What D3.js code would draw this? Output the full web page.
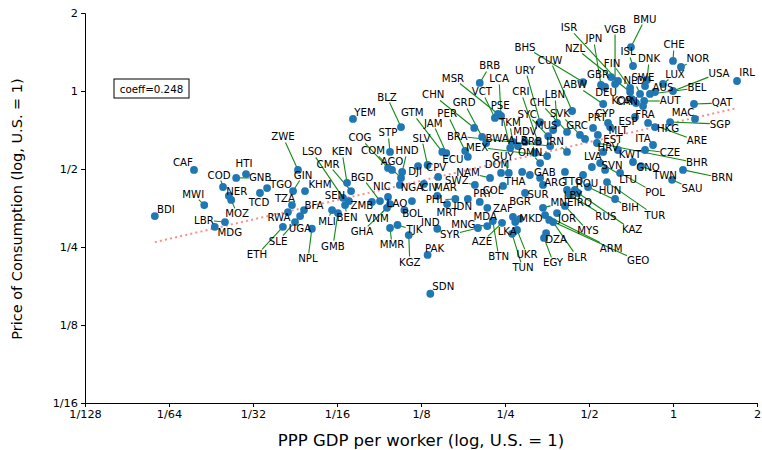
<!DOCTYPE html>
<html><head><meta charset="utf-8">
<script src="https://cdn.jsdelivr.net/npm/d3@7"></script>
<style>
body{margin:0;background:#fff;}
svg{font-family:"DejaVu Sans",sans-serif;display:block;}
</style></head><body>
<svg id="chart" width="762" height="450"></svg>
<script>
const countries = ["BDI","CAF","MWI","COD","HTI","GNB","NER","MOZ","LBR","MDG","TCD","TGO","ZWE","GIN","KHM","TZA","BFA","RWA","UGA","SLE","ETH","NPL","MLI","GMB","KEN","CMR","LSO","SEN","BEN","ZMB","BGD","NIC","GHA","VNM","MMR","TJK","KGZ","LAO","BOL","NGA","CIV","IND","PAK","SDN","YEM","COG","COM","STP","HND","AGO","DJI","BLZ","GTM","JAM","SLV","CPV","CHN","GRD","PER","MSR","BRA","MEX","ECU","BWA","PSE","TKM","MDV","ALB","SRB","IRN","OMN","GUY","DOM","THA","GAB","ARG","TTO","ROU","LVA","HRV","SVN","LTU","HUN","SUR","BGR","LBY","IRQ","MNE","JOR","RUS","BIH","KAZ","MYS","DZA","ARM","GEO","BLR","EGY","NAM","SWZ","COL","PRY","MAR","PHL","MRT","IDN","MDA","ZAF","MNG","SYR","AZE","BTN","LKA","UKR","TUN","MKD","URY","CRI","CHL","SYC","MUS","SVK","LBN","GRC","PRT","CYP","ESP","MLT","EST","KWT","ITA","CZE","GNQ","TWN","BHR","BRN","SAU","POL","TUR","HKG","ARE","SGP","MAC","QAT","BMU","ISR","VGB","JPN","DEU","NZL","ISL","DNK","CHE","NOR","LUX","USA","IRL","BEL","AUS","AUT","FIN","GBR","SWE","NLD","CUW","BHS","ABW","KOR","CAN","FRA","BRB","LCA","VCT"];

// PPP GDP per worker, relative to U.S. = 1
const gdpPerWorker = [0.0139,0.0192,0.0209,0.0244,0.0295,0.0272,0.0256,0.0261,0.0248,0.0228,0.0331,0.0351,0.0453,0.0435,0.0480,0.0431,0.0476,0.0417,0.0442,0.0461,0.0400,0.0508,0.0600,0.0630,0.0679,0.0702,0.0657,0.0690,0.0668,0.0834,0.0891,0.0952,0.0944,0.0968,0.0968,0.103,0.113,0.116,0.109,0.105,0.128,0.143,0.132,0.135,0.0713,0.0952,0.106,0.0968,0.107,0.0984,0.122,0.106,0.149,0.154,0.132,0.144,0.194,0.207,0.180,0.236,0.363,0.354,0.184,0.214,0.261,0.267,0.295,0.278,0.320,0.417,0.334,0.258,0.242,0.288,0.307,0.334,0.410,0.476,0.512,0.562,0.571,0.548,0.620,0.342,0.295,0.417,0.445,0.342,0.384,0.427,0.496,0.457,0.410,0.351,0.348,0.360,0.372,0.345,0.221,0.195,0.246,0.203,0.143,0.166,0.155,0.184,0.216,0.267,0.216,0.200,0.244,0.226,0.272,0.276,0.265,0.283,0.334,0.328,0.417,0.357,0.372,0.464,0.384,0.484,0.517,0.585,0.731,0.595,0.538,0.635,0.848,0.794,0.719,0.768,0.534,1.086,0.992,0.646,0.580,0.862,0.814,0.976,1.199,1.189,0.707,0.635,0.620,0.552,0.571,0.702,0.719,0.807,1.000,1.068,0.921,1.000,1.696,0.827,0.862,0.788,0.702,0.600,0.794,0.762,0.435,0.476,0.562,0.713,0.737,0.781,0.203,0.242,0.230];

// Price of consumption, relative to U.S. = 1
const priceOfConsumption = [0.329,0.496,0.363,0.426,0.478,0.462,0.394,0.380,0.312,0.299,0.404,0.422,0.496,0.411,0.411,0.363,0.347,0.341,0.312,0.329,0.299,0.294,0.347,0.338,0.442,0.411,0.387,0.376,0.363,0.373,0.376,0.390,0.354,0.366,0.296,0.304,0.278,0.376,0.347,0.434,0.438,0.294,0.233,0.165,0.780,0.505,0.462,0.582,0.487,0.496,0.513,0.726,0.582,0.576,0.518,0.466,0.720,0.665,0.587,0.815,0.613,0.561,0.557,0.630,0.603,0.636,0.636,0.613,0.576,0.582,0.527,0.483,0.483,0.487,0.474,0.462,0.487,0.474,0.509,0.582,0.496,0.527,0.383,0.434,0.404,0.415,0.415,0.354,0.338,0.397,0.426,0.404,0.360,0.283,0.332,0.318,0.312,0.271,0.462,0.434,0.430,0.373,0.394,0.383,0.366,0.383,0.354,0.327,0.301,0.296,0.310,0.315,0.312,0.291,0.281,0.321,0.759,0.636,0.695,0.670,0.707,0.677,0.753,0.653,0.720,0.753,0.794,0.726,0.677,0.592,0.619,0.592,0.532,0.513,0.630,0.496,0.454,0.483,0.445,0.726,0.753,0.759,0.780,0.891,1.478,1.093,1.064,1.055,1.036,0.991,1.249,1.103,1.306,1.238,1.064,1.000,1.093,0.974,0.991,0.915,1.027,1.132,1.045,0.974,0.837,1.083,0.891,0.931,0.899,0.875,1.074,0.801,0.787];

// label placement (layout only): offset of label centre from its point, in px
const labelOffsets = [[11,-7],[-11,-7],[-11,-11],[-4,-12],[-2,-11],[24,0],[8,-4],[6,14],[-21,-2],[15,6],[-1,10],[14,-4],[-15,-33],[10,-16],[15,-7],[-7,-7],[10,-5],[-9,5],[5,6],[-22,25],[-26,28],[-4,30],[-5,11],[-5,33],[-5,-31],[-23,-27],[-31,-46],[-14,-6],[2,12],[-10,4],[-18,-24],[-6,-10],[-25,24],[-13,14],[2,17],[17,5],[1,27],[-15,2],[8,3],[12,3],[6,4],[-7,-6],[7,-6],[13,-7],[12,-6],[-28,-30],[-28,-27],[-2,-19],[5,-21],[0,-8],[-3,5],[-14,-30],[-30,-39],[-13,-30],[-6,-27],[-2,-9],[-41,-33],[-18,-34],[-18,-37],[-45,-36],[-93,-10],[-70,-9],[-15,3],[11,-4],[-10,-42],[-3,-19],[0,-10],[0,-6],[-3,-12],[-12,-10],[-10,-11],[-6,-16],[-4,-8],[-7,10],[15,-3],[15,5],[8,10],[4,8],[1,-10],[5,-4],[7,-4],[28,16],[-5,-8],[-5,10],[-5,9],[6,6],[8,13],[19,-5],[10,5],[36,22],[42,20],[54,37],[23,25],[10,6],[66,33],[89,41],[24,35],[9,25],[-22,-5],[-18,-4],[-10,5],[3,-8],[8,-8],[-20,1],[0,8],[-5,8],[-2,9],[-10,-8],[-24,-2],[-28,7],[-20,19],[6,36],[-8,9],[10,25],[11,34],[11,0],[-15,-52],[-17,-50],[-27,-29],[-21,-22],[-7,-5],[-20,-21],[-2,-28],[-8,-13],[4,-10],[-3,-9],[-7,5],[8,3],[15,5],[12,5],[-10,-6],[25,3],[15,5],[24,9],[100,20],[39,8],[20,9],[35,20],[48,33],[13,1],[49,18],[50,2],[-12,-6],[28,-1],[14,-28],[-49,-53],[0,-55],[-7,-46],[1,5],[-55,-44],[-5,-14],[2,-21],[1,-16],[17,-8],[12,-10],[46,-18],[10,-8],[47,-6],[8,-5],[26,0],[-18,-25],[-13,-3],[-2,-9],[-6,-13],[-22,-51],[-58,-35],[-28,-19],[-10,1],[-9,-1],[2,8],[10,-17],[-2,-37],[-13,-26]];

const xTickValues = [1/128,1/64,1/32,1/16,1/8,1/4,1/2,1,2];
const xTickLabels = ["1/128","1/64","1/32","1/16","1/8","1/4","1/2","1","2"];
const yTickValues = [1/16,1/8,1/4,1/2,1,2];
const yTickLabels = ["1/16","1/8","1/4","1/2","1","2"];
const fitCoeff = 0.248;
const fitAtOne = 0.754;

const data = countries.map((c,i)=>({c, gdp:gdpPerWorker[i], price:priceOfConsumption[i], off:labelOffsets[i]||[8,-6]}));

const svg = d3.select("#chart");
const x = d3.scaleLog().base(2).domain([1/128,2]).range([85,757]);
const y = d3.scaleLog().base(2).domain([1/16,2]).range([403,13]);

// axes
const gx = svg.append("g").attr("transform","translate(0,403)")
  .call(d3.axisBottom(x).tickValues(xTickValues).tickFormat((d,i)=>xTickLabels[i]).tickSizeOuter(0).tickSize(4).tickPadding(3));
const gy = svg.append("g").attr("transform","translate(85,0)")
  .call(d3.axisLeft(y).tickValues(yTickValues).tickFormat((d,i)=>yTickLabels[i]).tickSizeOuter(0).tickSize(4).tickPadding(3));
[gx,gy].forEach(g=>{
  g.attr("font-family","DejaVu Sans, sans-serif").attr("font-size",11.3);
  g.selectAll("text").attr("fill","#000");
  g.selectAll("line,path").attr("stroke","#000").attr("stroke-width",1);
});

svg.append("text").attr("x",421).attr("y",446).attr("text-anchor","middle")
  .attr("font-size",16.5).text("PPP GDP per worker (log, U.S. = 1)");
svg.append("text").attr("transform","translate(22,209) rotate(-90)").attr("text-anchor","middle")
  .attr("font-size",14.5).text("Price of Consumption (log, U.S. = 1)");

// fit line
const xmin = d3.min(gdpPerWorker), xmax = d3.max(gdpPerWorker);
const fit = v => fitAtOne*Math.pow(v, fitCoeff);
svg.append("line")
  .attr("x1",x(xmin)).attr("y1",y(fit(xmin)))
  .attr("x2",x(xmax)).attr("y2",y(fit(xmax)))
  .attr("stroke","#f47a7a").attr("stroke-opacity",0.85).attr("stroke-width",2)
  .attr("stroke-dasharray","2,3.2");

const gLines = svg.append("g");
const gDots = svg.append("g");
const gText = svg.append("g").attr("font-size",10.2).attr("fill","#000");

gDots.selectAll("circle").data(data).join("circle")
  .attr("cx",d=>x(d.gdp)).attr("cy",d=>y(d.price)).attr("r",3.9)
  .attr("fill","#1f77b4");

const texts = gText.selectAll("text").data(data).join("text")
  .attr("x",d=>x(d.gdp)+d.off[0]).attr("y",d=>y(d.price)+d.off[1])
  .attr("text-anchor","middle").attr("dominant-baseline","central")
  .text(d=>d.c);

texts.each(function(d){
  const bb = this.getBBox();
  const px = x(d.gdp), py = y(d.price);
  const cx = bb.x+bb.width/2, cy = bb.y+bb.height/2;
  const hw = bb.width/2, hh = bb.height/2;
  const dx = px-cx, dy = py-cy;
  if (Math.abs(dx)<=hw+4 && Math.abs(dy)<=hh+4) return;
  const t = Math.min(dx!==0?hw/Math.abs(dx):Infinity, dy!==0?hh/Math.abs(dy):Infinity);
  const ex = cx+dx*t, ey = cy+dy*t;
  if (Math.hypot(px-ex,py-ey) < 6) return;
  gLines.append("line").attr("x1",px).attr("y1",py).attr("x2",ex).attr("y2",ey)
    .attr("stroke","#138a13").attr("stroke-width",1.1);
});

// coefficient box
svg.append("rect").attr("x",114).attr("y",79).attr("width",75).attr("height",19)
  .attr("fill","#fff").attr("stroke","#000").attr("stroke-width",1);
svg.append("text").attr("x",151.5).attr("y",88.5).attr("text-anchor","middle")
  .attr("dominant-baseline","central").attr("font-size",10.3).text("coeff=" + fitCoeff.toFixed(3));
</script>
</body></html>
